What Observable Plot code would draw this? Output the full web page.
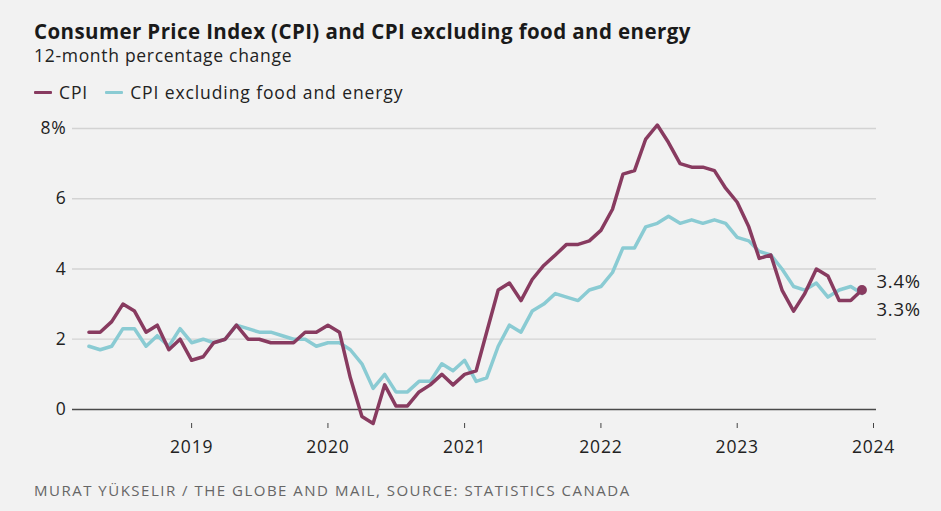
<!DOCTYPE html>
<html><head><meta charset="utf-8">
<script src="https://cdn.jsdelivr.net/npm/d3@7"></script>
<script src="https://cdn.jsdelivr.net/npm/@observablehq/plot@0.6"></script>
<style>
html,body{margin:0;padding:0;background:#f2f2f2;width:941px;height:511px;overflow:hidden;font-family:"Open Sans",sans-serif;color:#222}
#wrap{position:relative;width:941px;height:511px}
.t{position:absolute;left:34px;white-space:nowrap;line-height:1}
#title{top:21px;font-size:20.5px;font-weight:700;color:#1a1a1a;letter-spacing:0.4px}
#sub{top:47px;font-size:17.5px;color:#222;letter-spacing:0.7px}
#legend{top:84px;font-size:17.5px;display:flex;align-items:center;color:#222;letter-spacing:0.9px}
.sw{display:inline-block;width:18px;height:3px;margin-right:7px;border-radius:1px}
#chart{position:absolute;left:0;top:105px}
#chart svg text{letter-spacing:0.8px}
#foot{top:483px;font-size:15px;color:#666;letter-spacing:1.5px}
</style></head><body>
<div id="wrap">
  <div id="title" class="t">Consumer Price Index (CPI) and CPI excluding food and energy</div>
  <div id="sub" class="t">12-month percentage change</div>
  <div id="legend" class="t"></div>
  <div id="chart"></div>
  <div id="foot" class="t">MURAT YÜKSELIR / THE GLOBE AND MAIL, SOURCE: STATISTICS CANADA</div>
</div>
<script>
// Series names and colours
const seriesNames = ["CPI", "CPI excluding food and energy"];
const seriesColors = ["#883b60", "#8acbd3"];

// Monthly observations, April 2018 to December 2023
const firstMonth = "2018-04-01";
const lastMonth = "2023-12-01";

const cpi = [
  2.2, 2.2, 2.5, 3.0, 2.8, 2.2, 2.4, 1.7, 2.0,
  1.4, 1.5, 1.9, 2.0, 2.4, 2.0, 2.0, 1.9, 1.9, 1.9, 2.2, 2.2,
  2.4, 2.2, 0.9, -0.2, -0.4, 0.7, 0.1, 0.1, 0.5, 0.7, 1.0, 0.7,
  1.0, 1.1, 2.2, 3.4, 3.6, 3.1, 3.7, 4.1, 4.4, 4.7, 4.7, 4.8,
  5.1, 5.7, 6.7, 6.8, 7.7, 8.1, 7.6, 7.0, 6.9, 6.9, 6.8, 6.3,
  5.9, 5.2, 4.3, 4.4, 3.4, 2.8, 3.3, 4.0, 3.8, 3.1, 3.1, 3.4
];
const core = [
  1.8, 1.7, 1.8, 2.3, 2.3, 1.8, 2.1, 1.8, 2.3,
  1.9, 2.0, 1.9, 2.0, 2.4, 2.3, 2.2, 2.2, 2.1, 2.0, 2.0, 1.8,
  1.9, 1.9, 1.7, 1.3, 0.6, 1.0, 0.5, 0.5, 0.8, 0.8, 1.3, 1.1,
  1.4, 0.8, 0.9, 1.8, 2.4, 2.2, 2.8, 3.0, 3.3, 3.2, 3.1, 3.4,
  3.5, 3.9, 4.6, 4.6, 5.2, 5.3, 5.5, 5.3, 5.4, 5.3, 5.4, 5.3,
  4.9, 4.8, 4.5, 4.4, 4.0, 3.5, 3.4, 3.6, 3.2, 3.4, 3.5, 3.3
];

// Axis ticks
const yTicks = [0, 2, 4, 6, 8];
const yGrid = [2, 4, 6, 8];
const yearTicks = ["2019-01-01", "2020-01-01", "2021-01-01", "2022-01-01", "2023-01-01", "2024-01-01"];
const xDomain = ["2018-02-16", "2024-01-09"];

// Build table
const months = d3.utcMonth.range(new Date(firstMonth), d3.utcMonth.offset(new Date(lastMonth), 1));
const data = months.map((d, i) => ({date: d, cpi: cpi[i], core: core[i]}));
const last = [data[data.length - 1]];

// Legend
const legend = document.getElementById("legend");
seriesNames.forEach((name, i) => {
  const item = document.createElement("span");
  item.style.display = "inline-flex";
  item.style.alignItems = "center";
  item.style.marginRight = i === 0 ? "17px" : "0";
  item.innerHTML = `<span class="sw" style="background:${seriesColors[i]}"></span>${name}`;
  legend.appendChild(item);
});

const chart = Plot.plot({
  width: 941,
  height: 358,
  marginLeft: 72,
  marginRight: 65,
  marginTop: 23,
  marginBottom: 40,
  style: {background: "transparent", fontFamily: "'Open Sans', sans-serif", fontSize: "17px", color: "#222", overflow: "visible"},
  x: {type: "utc", domain: xDomain.map(d => new Date(d))},
  y: {domain: [-0.4, 8]},
  marks: [
    Plot.ruleY(yGrid, {stroke: "#d3d3d3", strokeWidth: 1.3}),
    Plot.ruleY([0], {stroke: "#4a4a4a", strokeWidth: 1.5}),
    Plot.axisY({ticks: yTicks, tickSize: 0, tickPadding: 6, fontSize: 17.5, fill: "#222",
      tickFormat: d => d === 8 ? "8%" : String(d)}),
    Plot.axisX({ticks: yearTicks.map(d => new Date(d)), tickSize: 5, tickPadding: 12, fontSize: 17.5,
      fill: "#222", stroke: "#444", tickFormat: d3.utcFormat("%Y")}),
    Plot.lineY(data, {x: "date", y: "core", stroke: seriesColors[1], strokeWidth: 3.5, strokeLinejoin: "round"}),
    Plot.lineY(data, {x: "date", y: "cpi", stroke: seriesColors[0], strokeWidth: 3.5, strokeLinejoin: "round"}),
    Plot.dot(last, {x: "date", y: "cpi", r: 5, fill: seriesColors[0]}),
    Plot.text(last, {x: "date", y: "cpi", text: d => d.cpi.toFixed(1) + "%", dx: 14.5, dy: -7.5,
      textAnchor: "start", fontSize: 18.5, fill: "#222"}),
    Plot.text(last, {x: "date", y: "core", text: d => d.core.toFixed(1) + "%", dx: 14.5, dy: 16.5,
      textAnchor: "start", fontSize: 18.5, fill: "#222"})
  ]
});
document.getElementById("chart").appendChild(chart);
</script>
</body></html>
